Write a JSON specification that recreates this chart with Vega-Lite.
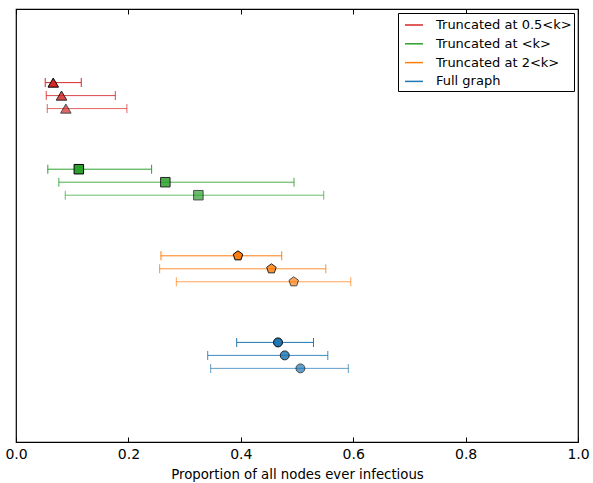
{
  "$schema": "https://vega.github.io/schema/vega-lite/v6.json",
  "width": 562,
  "height": 433,
  "autosize": {"type": "none"},
  "padding": {"left": 16, "top": 9, "right": 15, "bottom": 41},
  "config": {
    "font": "DejaVu Sans",
    "view": {"stroke": "black", "strokeWidth": 1.2},
    "axis": {"grid": false, "domain": false, "labelFont": "DejaVu Sans", "titleFont": "DejaVu Sans", "labelColor": "black", "titleColor": "black", "tickColor": "black"}
  },
  "data": {
    "values": [
      {"series": "Truncated at 0.5<k>", "run": 1, "y": 4.15, "lo": 0.052, "mean": 0.0663, "hi": 0.1161},
      {"series": "Truncated at 0.5<k>", "run": 2, "y": 4.0, "lo": 0.0538, "mean": 0.081, "hi": 0.1767},
      {"series": "Truncated at 0.5<k>", "run": 3, "y": 3.85, "lo": 0.0556, "mean": 0.0887, "hi": 0.1973},
      {"series": "Truncated at <k>", "run": 1, "y": 3.15, "lo": 0.0566, "mean": 0.1118, "hi": 0.2413},
      {"series": "Truncated at <k>", "run": 2, "y": 3.0, "lo": 0.0762, "mean": 0.2657, "hi": 0.4947},
      {"series": "Truncated at <k>", "run": 3, "y": 2.85, "lo": 0.0876, "mean": 0.3245, "hi": 0.5476},
      {"series": "Truncated at 2<k>", "run": 1, "y": 2.15, "lo": 0.2579, "mean": 0.395, "hi": 0.4728},
      {"series": "Truncated at 2<k>", "run": 2, "y": 2.0, "lo": 0.2556, "mean": 0.4545, "hi": 0.5512},
      {"series": "Truncated at 2<k>", "run": 3, "y": 1.85, "lo": 0.2853, "mean": 0.4942, "hi": 0.5957},
      {"series": "Full graph", "run": 1, "y": 1.15, "lo": 0.3927, "mean": 0.4662, "hi": 0.5293},
      {"series": "Full graph", "run": 2, "y": 1.0, "lo": 0.3411, "mean": 0.4782, "hi": 0.5548},
      {"series": "Full graph", "run": 3, "y": 0.85, "lo": 0.3464, "mean": 0.5061, "hi": 0.5913}
    ]
  },
  "resolve": {"axis": {"x": "independent"}},
  "encoding": {
    "y": {"field": "y", "type": "quantitative", "scale": {"domain": [0, 5], "nice": false, "zero": false}, "axis": null},
    "opacity": {"field": "run", "type": "ordinal", "scale": {"domain": [1, 2, 3], "range": [1, 0.7, 0.4]}, "legend": null}
  },
  "layer": [
    {
      "mark": {"type": "rule", "strokeWidth": 1},
      "encoding": {
        "x": {
          "field": "lo", "type": "quantitative",
          "scale": {"domain": [0, 1], "nice": false, "zero": false},
          "axis": {
            "orient": "bottom",
            "values": [0, 0.2, 0.4, 0.6, 0.8, 1.0],
            "format": ".1f",
            "tickSize": -5,
            "labelFlush": false,
            "labelPadding": 10,
            "labelFontSize": 14,
            "title": "Proportion of all nodes ever infectious",
            "titleFontSize": 13.3,
            "titleFontWeight": "normal",
            "titlePadding": 6
          }
        },
        "x2": {"field": "hi"},
        "color": {
          "field": "series", "type": "nominal",
          "scale": {
            "domain": ["Truncated at 0.5<k>", "Truncated at <k>", "Truncated at 2<k>", "Full graph"],
            "range": ["#d62728", "#2ca02c", "#ff7f0e", "#1f77b4"]
          },
          "legend": {
            "title": null,
            "orient": "top-right",
            "offset": 4,
            "symbolType": "stroke",
            "symbolSize": 324,
            "symbolStrokeWidth": 1.5,
            "symbolOpacity": 1,
            "symbolOffset": 4,
            "labelFontSize": 13,
            "labelFont": "DejaVu Sans",
            "labelColor": "black",
            "labelOffset": 12,
            "rowPadding": 1.8,
            "padding": 2,
            "strokeColor": "black",
            "fillColor": "white",
            "cornerRadius": 0,
            "labelLimit": 300,
            "encode": {
              "symbols": {
                "update": {
                  "opacity": {"value": 1},
                  "strokeOpacity": {"value": 1}
                }
              }
            }
          }
        }
      }
    },
    {
      "mark": {"type": "tick", "orient": "vertical", "size": 9, "thickness": 1},
      "encoding": {
        "x": {"field": "lo", "type": "quantitative", "axis": {"orient": "top", "values": [0, 0.2, 0.4, 0.6, 0.8, 1.0], "tickSize": -5, "labels": false, "title": null}},
        "color": {"field": "series", "type": "nominal"}
      }
    },
    {
      "mark": {"type": "tick", "orient": "vertical", "size": 9, "thickness": 1},
      "encoding": {
        "x": {"field": "hi", "type": "quantitative", "axis": null},
        "color": {"field": "series", "type": "nominal"}
      }
    },
    {
      "transform": [{"filter": "datum.series === 'Truncated at 0.5<k>'"}],
      "mark": {"type": "point", "shape": "triangle-up", "size": 110, "filled": true, "fill": "#d62728", "stroke": "black", "strokeWidth": 1},
      "encoding": {"x": {"field": "mean", "type": "quantitative", "axis": null}}
    },
    {
      "transform": [{"filter": "datum.series === 'Truncated at <k>'"}],
      "mark": {"type": "point", "shape": "square", "size": 90, "filled": true, "fill": "#2ca02c", "stroke": "black", "strokeWidth": 1},
      "encoding": {"x": {"field": "mean", "type": "quantitative", "axis": null}}
    },
    {
      "transform": [{"filter": "datum.series === 'Truncated at 2<k>'"}],
      "mark": {"type": "point", "shape": "M0,-1L0.951,-0.309L0.588,0.809L-0.588,0.809L-0.951,-0.309Z", "size": 100, "filled": true, "fill": "#ff7f0e", "stroke": "black", "strokeWidth": 1},
      "encoding": {"x": {"field": "mean", "type": "quantitative", "axis": null}}
    },
    {
      "transform": [{"filter": "datum.series === 'Full graph'"}],
      "mark": {"type": "point", "shape": "circle", "size": 80, "filled": true, "fill": "#1f77b4", "stroke": "black", "strokeWidth": 1},
      "encoding": {"x": {"field": "mean", "type": "quantitative", "axis": null}}
    }
  ]
}
